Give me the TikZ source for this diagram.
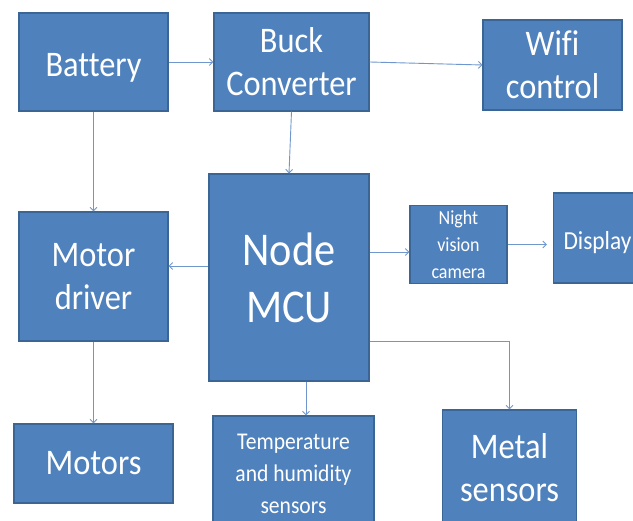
\documentclass[tikz,border=0pt]{standalone}
\usepackage{fontspec}
\setmainfont{Carlito}[FakeStretch=0.9,Ligatures=NoCommon]
\usetikzlibrary{arrows.meta}
\definecolor{boxfill}{HTML}{4F81BD}
\definecolor{boxline}{HTML}{3A6595}
\definecolor{conncol}{HTML}{6F97CD}
\begin{document}
\begin{tikzpicture}[x=1pt,y=-1pt,
  blk/.style={draw=boxline,fill=boxfill,line width=1.1pt,text=white,align=center,inner sep=0pt},
  bigtxt/.style={font=\fontsize{36}{43}\selectfont},
  hugetxt/.style={font=\fontsize{47}{57}\selectfont},
  smalltxt/.style={font=\fontsize{20}{27}\selectfont},
  midtxt/.style={font=\fontsize{24}{32}\selectfont},
  disptxt/.style={font=\fontsize{26}{32}\selectfont},
  conn/.style={draw=conncol,line width=0.9pt,-{Straight Barb[length=3.5pt,width=7pt]}}]
\path[use as bounding box] (0,0) rectangle (633,521);
\fill[white] (0,0) rectangle (633,521);
\clip (0,0) rectangle (633,521);
% blocks
\node[blk,bigtxt,minimum width=149pt,minimum height=98pt,text height=30pt,text depth=0pt] (bat) at (93.5,62) {Battery};
\node[blk,bigtxt,minimum width=155pt,minimum height=98pt] (buck) at (291.5,62) {Buck\\Converter};
\node[blk,bigtxt,minimum width=139pt,minimum height=90pt] (wifi) at (552.5,65) {Wifi\\control};
\node[blk,hugetxt,minimum width=160pt,minimum height=207pt] (mcu) at (289,277.5) {Node\\MCU};
\node[blk,bigtxt,minimum width=149pt,minimum height=129pt] (md) at (93.5,276.5) {Motor\\driver};
\node[blk,smalltxt,minimum width=97pt,minimum height=78pt] (night) at (458.5,244.5) {Night\\vision\\camera};
\node[blk,disptxt,minimum width=88pt,minimum height=90pt,text height=24pt,text depth=0pt] (disp) at (597.5,238) {Display};
\node[blk,bigtxt,minimum width=159pt,minimum height=79pt,text height=23pt,text depth=0pt] (motors) at (93.5,463.5) {Motors};
\node[blk,midtxt,minimum width=161pt,minimum height=116pt] (temp) at (293.5,474) {Temperature\\and humidity\\sensors};
\node[blk,bigtxt,minimum width=134pt,minimum height=115pt] (metal) at (509.5,467.5) {Metal\\sensors};
% helper coordinates
\coordinate (mcuL) at ([yshift=11.5pt]mcu.west);
\coordinate (mcuR) at ([yshift=25.5pt]mcu.east);
\coordinate (mcuM) at ([yshift=-63.5pt]mcu.east);
\coordinate (mcuB) at ([xshift=17pt]mcu.south);
% connectors
\draw[conn] (bat) -- (buck);
\draw[conn] (buck.east) -- (wifi.west);
\draw[conn] (bat) -- (md);
\draw[conn] (buck.south) -- (mcu.north);
\draw[conn] (mcuL) -- (mcuL -| md.east);
\draw[conn] (mcuR) -- (mcuR -| night.west);
\draw[conn] (night) -- ([xshift=-6pt]night -| disp.west);
\draw[conn] (mcuM) -| (metal.north);
\draw[conn] (mcuB) -- (mcuB |- temp.north);
\draw[conn] (md) -- (motors);
\end{tikzpicture}
\end{document}
